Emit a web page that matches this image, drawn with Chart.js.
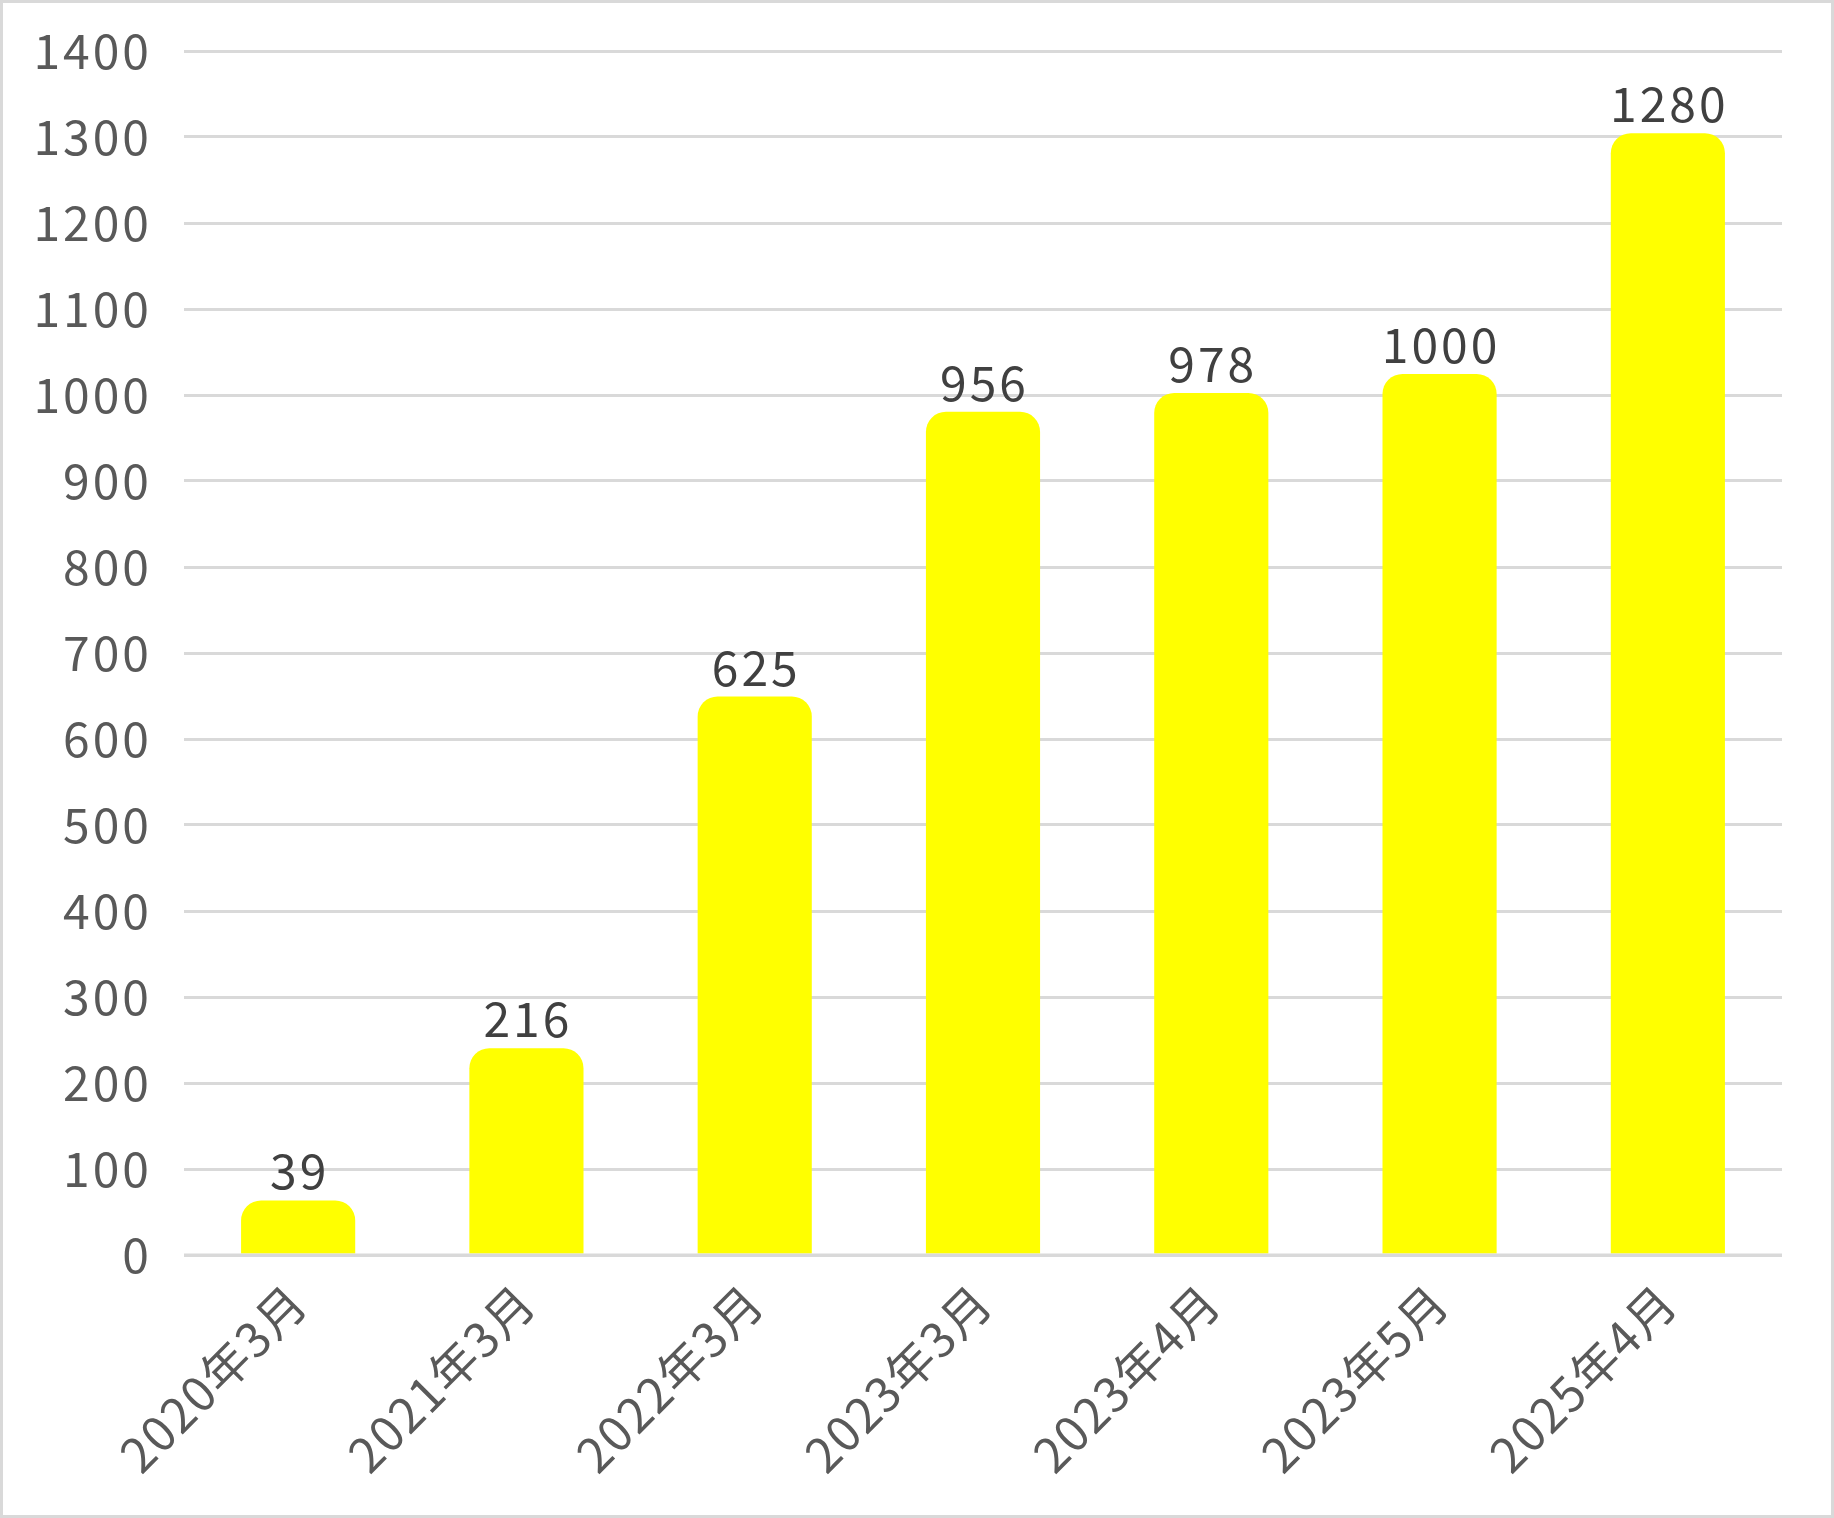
<!DOCTYPE html>
<html><head><meta charset="utf-8">
<script src="https://cdn.jsdelivr.net/npm/chart.js@4/dist/chart.umd.min.js"></script>
<style>
html,body{margin:0;padding:0;background:#fff;}
canvas{display:block;}
</style></head><body>
<canvas id="c" width="1834" height="1518"></canvas>
<script>
const categories = ['2020年3月','2021年3月','2022年3月','2023年3月','2023年4月','2023年5月','2025年4月'];
const values = [39, 216, 625, 956, 978, 1000, 1280];
const yMin = 0, yMax = 1400, yStep = 100;

const FONT = '"Noto Sans CJK JP", "Noto Sans", sans-serif';
const CAP_PX = 21; // rounded cap drawn above each bar's value
const SPACING = '3px';
const X_SPACING = '1.5px';

const capPlugin = {
  id: 'cap',
  afterDatasetUpdate(chart, args) {
    args.meta.data.forEach(el => { el.y -= CAP_PX; });
  },
  afterLayout(chart) {
    const xs = chart.scales.x;
    if (!xs._patched) {
      const orig = xs.drawLabels;
      xs.drawLabels = function(area) {
        const ctx = this.ctx;
        const prev = ctx.letterSpacing;
        ctx.letterSpacing = X_SPACING;
        orig.call(this, area);
        ctx.letterSpacing = prev;
      };
      xs._patched = true;
    }
  },
  beforeDraw(chart) {
    chart.ctx.letterSpacing = SPACING;
  }
};
const overlayPlugin = {
  id: 'overlay',
  afterDatasetsDraw(chart) {
    const ctx = chart.ctx, ca = chart.chartArea, ys = chart.scales.y;
    ctx.save();
    const y0 = ys.getPixelForValue(0);
    ctx.strokeStyle = '#d9d9d9'; ctx.lineWidth = 3;
    ctx.beginPath(); ctx.moveTo(ca.left, y0); ctx.lineTo(ca.right, y0); ctx.stroke();
    const meta = chart.getDatasetMeta(0);
    ctx.fillStyle = '#404040';
    ctx.font = '48px ' + FONT;
    ctx.letterSpacing = SPACING;
    ctx.textAlign = 'center'; ctx.textBaseline = 'alphabetic';
    meta.data.forEach((el, i) => {
      ctx.fillText(String(values[i]), el.x + 1.5, el.y - 11);
    });
    ctx.restore();
  },
  afterDraw(chart) {
    const ctx = chart.ctx;
    ctx.save();
    ctx.strokeStyle = '#d9d9d9'; ctx.lineWidth = 3;
    ctx.strokeRect(1.5, 1.5, chart.width - 3, chart.height - 3);
    ctx.restore();
  }
};

new Chart(document.getElementById('c'), {
  type: 'bar',
  data: {
    labels: categories,
    datasets: [{
      data: values,
      backgroundColor: '#ffff00',
      borderRadius: 20,
      borderSkipped: 'start',
      barPercentage: 0.5,
      categoryPercentage: 1.0
    }]
  },
  options: {
    responsive: false,
    animation: false,
    events: [],
    layout: { padding: { top: 51, right: 52, left: 0, bottom: 0 } },
    plugins: { legend: { display: false }, tooltip: { enabled: false } },
    scales: {
      x: {
        grid: { display: false, drawTicks: false },
        border: { display: false },
        ticks: {
          color: '#595959', font: { family: FONT, size: 48 },
          minRotation: 45, maxRotation: 45, autoSkip: false, padding: 18
        },
        afterFit(s) { s.height = 263; }
      },
      y: {
        min: yMin, max: yMax,
        grid: { color: '#d9d9d9', lineWidth: 3, drawTicks: true, tickLength: 32, tickColor: 'rgba(0,0,0,0)' },
        border: { display: false },
        ticks: {
          stepSize: yStep, color: '#595959', font: { family: FONT, size: 48 }, padding: 0,
          callback: v => String(v)
        },
        afterFit(s) { s.width = 184; }
      }
    }
  },
  plugins: [capPlugin, overlayPlugin]
});
</script>
</body></html>
